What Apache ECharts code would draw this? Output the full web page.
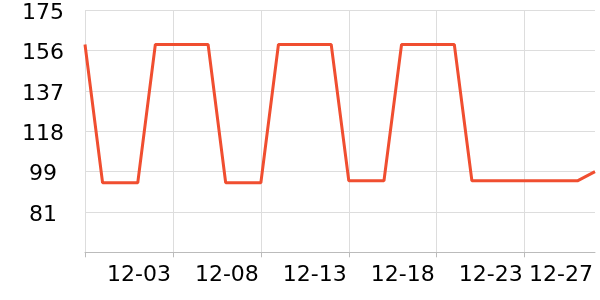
<!DOCTYPE html>
<html>
<head>
<meta charset="utf-8">
<script src="https://cdn.jsdelivr.net/npm/echarts@6/dist/echarts.min.js"></script>
<style>
html,body{margin:0;padding:0;background:#fff;}
#c{width:600px;height:300px;}
</style>
</head>
<body>
<div id="c"></div>
<script>
const categories = ['11-28','11-29','11-30','12-01','12-02','12-03','12-04','12-05','12-06','12-07',
  '12-08','12-09','12-10','12-11','12-12','12-13','12-14','12-15','12-16','12-17',
  '12-18','12-19','12-20','12-21','12-22','12-23','12-24','12-25','12-26','12-27'];
const values = [159.5, 94.7, 94.7, 94.7, 159.5, 159.5, 159.5, 159.5, 94.7, 94.7,
  94.7, 159.5, 159.5, 159.5, 159.5, 95.6, 95.6, 95.6, 159.5, 159.5,
  159.5, 159.5, 95.6, 95.6, 95.6, 95.6, 95.6, 95.6, 95.6, 99.9];
const labelIndices = [5, 10, 15, 20, 25, 29];
const tickIndices = [0, 5, 10, 15, 20, 25];
const yMin = 62.1, yMax = 175.5, yStep = 18.9;

const chart = echarts.init(document.getElementById('c'));
chart.setOption({
  animation: false,
  grid: {left: 85, right: 5, top: 10.3, bottom: 47.7, containLabel: false, outerBoundsMode: 'none'},
  xAxis: {
    type: 'category',
    data: categories,
    boundaryGap: false,
    axisLine: {lineStyle: {color: '#bbb'}},
    axisTick: {show: true, interval: (i) => tickIndices.includes(i), lineStyle: {color: '#bbb'}},
    splitLine: {show: true, interval: (i) => tickIndices.includes(i), lineStyle: {color: '#ddd'}},
    axisLabel: {
      interval: (i) => labelIndices.includes(i),
      align: 'right',
      margin: 12,
      padding: [0, 2, 0, 0],
      color: '#000',
      fontSize: 22,
      fontFamily: 'DejaVu Sans'
    }
  },
  yAxis: {
    type: 'value',
    min: yMin, max: yMax, interval: yStep,
    axisLine: {show: false},
    axisTick: {show: false},
    splitLine: {lineStyle: {color: '#ddd'}},
    axisLabel: {
      showMinLabel: false,
      align: 'center',
      margin: 42,
      color: '#000',
      fontSize: 22,
      fontFamily: 'DejaVu Sans',
      formatter: (v) => '{a|' + Math.floor(v + 0.01) + '}',
      rich: {a: {padding: [6, 0, 0, 0], fontSize: 22, fontFamily: 'DejaVu Sans', color: '#000'}}
    }
  },
  series: [{
    type: 'line',
    data: values,
    showSymbol: false,
    lineStyle: {color: '#f04e30', width: 3},
    itemStyle: {color: '#f04e30'}
  }]
});
</script>
</body>
</html>
